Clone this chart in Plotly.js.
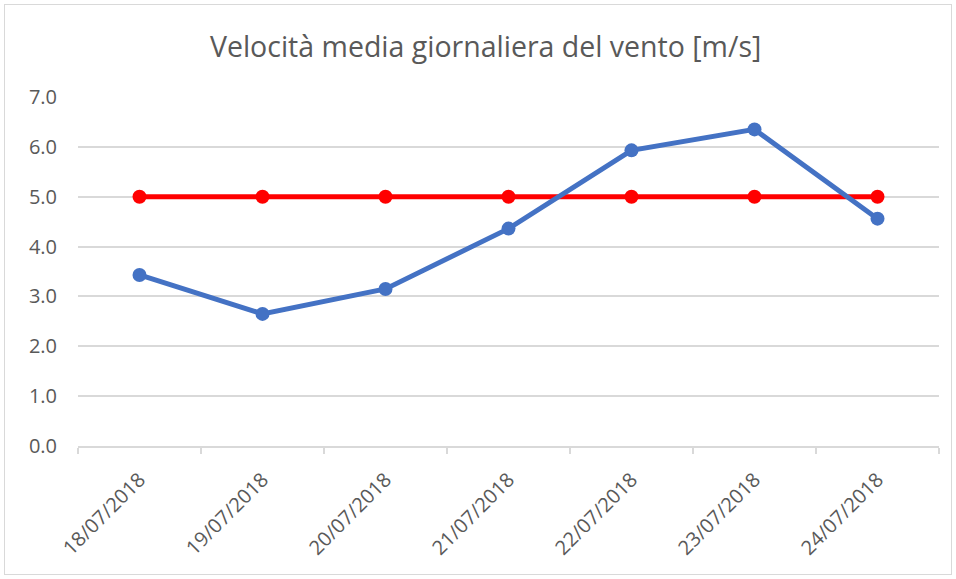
<!DOCTYPE html>
<html>
<head>
<meta charset="utf-8">
<script src="https://cdn.plot.ly/plotly-3.0.1.min.js"></script>
<style>
html,body{margin:0;padding:0;background:#fff;}
#frame{position:absolute;left:4px;top:4px;width:946px;height:569px;border:1px solid #d9d9d9;}
#chart{position:absolute;left:0;top:0;width:956px;height:579px;}
</style>
</head>
<body>
<div id="frame"></div>
<div id="chart"></div>
<script>
const dates = ["18/07/2018","19/07/2018","20/07/2018","21/07/2018","22/07/2018","23/07/2018","24/07/2018"];
const windSpeed = [3.43, 2.65, 3.15, 4.36, 5.93, 6.35, 4.56];
const threshold = [5.0, 5.0, 5.0, 5.0, 5.0, 5.0, 5.0];
const yTicks = [0,1,2,3,4,5,6,7];

const traces = [
  {x: dates, y: threshold, type: 'scatter', mode: 'lines+markers', name: 'Soglia',
   line: {color: '#FF0000', width: 5}, marker: {color: '#FF0000', size: 14}},
  {x: dates, y: windSpeed, type: 'scatter', mode: 'lines+markers', name: 'Velocità',
   line: {color: '#4472C4', width: 5}, marker: {color: '#4472C4', size: 14}}
];

const layout = {
  width: 956, height: 579,
  paper_bgcolor: 'rgba(0,0,0,0)', plot_bgcolor: 'rgba(0,0,0,0)',
  margin: {l: 78, r: 17, t: 97, b: 133},
  showlegend: false,
  font: {family: 'Open Sans, sans-serif', color: '#595959'},
  title: {text: 'Velocità media giornaliera del vento [m/s]', font: {size: 28.5, color: '#595959'},
          x: 0.508, xanchor: 'center', y: 0.918, yanchor: 'middle'},
  xaxis: {type: 'category', range: [-0.5, 6.5], tickangle: -45,
          showgrid: false, showline: true, linecolor: '#d9d9d9', linewidth: 2,
          ticks: 'outside', tickson: 'boundaries', ticklen: 6, tickcolor: '#d9d9d9', tickwidth: 1.5,
          ticklabelstandoff: 12,
          tickfont: {size: 20, color: '#595959'}, zeroline: false},
  yaxis: {range: [0, 7], tickvals: yTicks, tickformat: '.1f',
          showgrid: true, gridcolor: '#d9d9d9', gridwidth: 2, zeroline: false, showline: false,
          ticklabelstandoff: 20, tickfont: {size: 20, color: '#595959'}}
};

Plotly.newPlot('chart', traces, layout, {displayModeBar: false, staticPlot: true});
</script>
</body>
</html>
